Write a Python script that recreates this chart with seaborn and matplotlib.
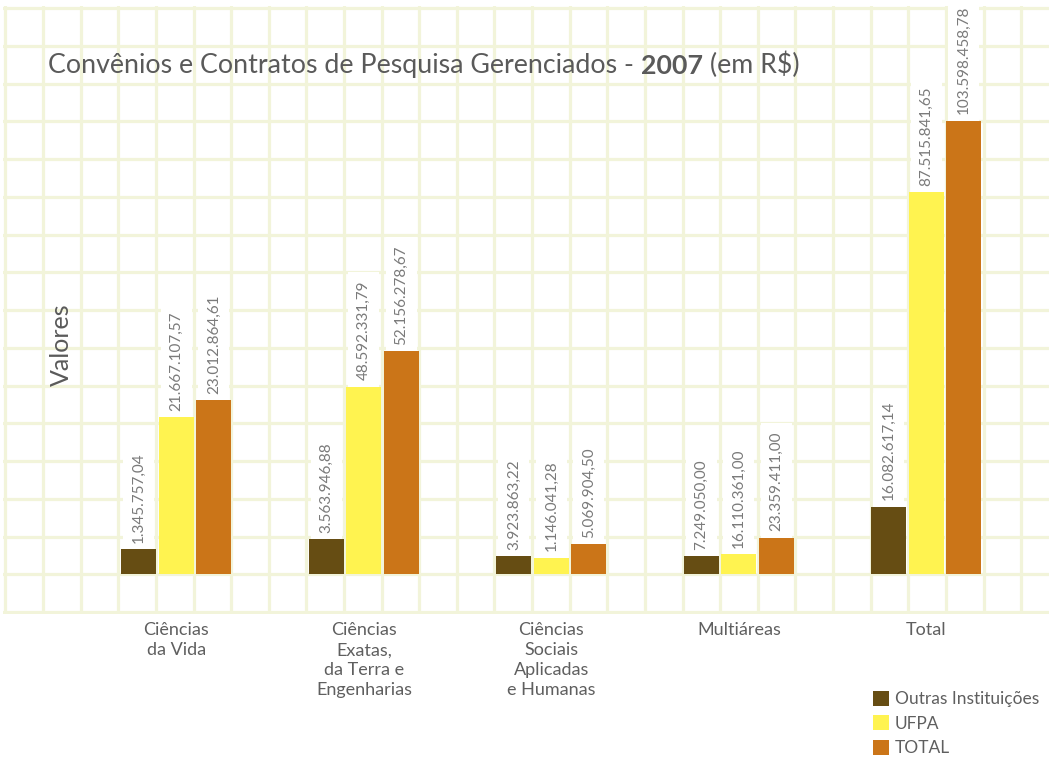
import numpy as np
import pandas as pd
import matplotlib.pyplot as plt
import seaborn as sns

categorias = ['Ciências\nda Vida', 'Ciências\nExatas,\nda Terra e\nEngenharias',
              'Ciências\nSociais\nAplicadas\ne Humanas', 'Multiáreas', 'Total']
series = ['Outras Instituições', 'UFPA', 'TOTAL']

# valores impressos sobre as barras (R$)
outras = [1345757.04, 3563946.88, 3923863.22, 7249050.00, 16082617.14]
ufpa = [21667107.57, 48592331.79, 1146041.28, 16110361.00, 87515841.65]
total = [23012864.61, 52156278.67, 5069904.50, 23359411.00, 103598458.78]

# altura desenhada de cada barra, em quadros da grade (o original nao e proporcional)
altura_outras = [0.64, 0.92, 0.46, 0.47, 1.77]
altura_ufpa = [4.15, 4.95, 0.42, 0.52, 10.10]
altura_total = [4.60, 5.89, 0.78, 0.95, 12.00]

cores = ['#664D13', '#FFF350', '#CB7518']


def fmt_br(v):
    return f'{v:,.2f}'.replace(',', 'X').replace('.', ',').replace('X', '.')


rows = []
for serie, vals, alts in zip(series, [outras, ufpa, total],
                             [altura_outras, altura_ufpa, altura_total]):
    for cat, v, a in zip(categorias, vals, alts):
        rows.append((cat, serie, v, a))
df = pd.DataFrame(rows, columns=['categoria', 'serie', 'valor', 'altura'])

sns.set_theme(style='white')
plt.rcParams['font.family'] = ['Lato', 'DejaVu Sans']

W, H = 1054, 759
fig = plt.figure(figsize=(W / 100, H / 100), dpi=100)
fig.patch.set_facecolor('white')

# area da grade, em pixels
x0, x1, y0, y1 = 3, 1049, 6, 614
pos = [x0 / W, 1 - y1 / H, (x1 - x0) / W, (y1 - y0) / H]

# fundo quadriculado
bg = fig.add_axes(pos, zorder=0)
bg.set_xlim(x0, x1)
bg.set_ylim(y1, y0)
bg.set_xticks(5.4 + 37.62 * np.arange(28))
bg.set_yticks(8 + 37.75 * np.arange(17))
bg.grid(True, color='#F2F4DA', linewidth=2.3)
bg.tick_params(length=0, labelbottom=False, labelleft=False)
for s in bg.spines.values():
    s.set_visible(False)

# barras
ax = fig.add_axes(pos, zorder=1)
ax.patch.set_alpha(0)
sns.barplot(data=df, x='categoria', y='altura', hue='serie', order=categorias,
            hue_order=series, palette=cores, saturation=1, width=0.6, gap=0.07,
            linewidth=0, ax=ax)
ax.set_xlim((x0 - 176.4) / 187.5, (x1 - 176.4) / 187.5)
ax.set_ylim((573.5 - y1) / 37.75, (573.5 - y0) / 37.75)
ax.set_xlabel('')
ax.set_ylabel('')
ax.set_yticks([])
ax.tick_params(axis='x', length=0, pad=6, labelsize=13, labelcolor='#5f5f5f')
for t in ax.get_xticklabels():
    t.set_linespacing(1.3)
    t.set_verticalalignment('top')
for s in ax.spines.values():
    s.set_visible(False)

for cont, serie in zip(ax.containers, series):
    vals = df.loc[df.serie == serie, 'valor']
    ax.bar_label(cont, labels=[fmt_br(v) for v in vals], rotation=90, padding=4.5,
                 fontsize=11, color='#7a7a7a', zorder=0.5,
                 bbox=dict(boxstyle='square,pad=0.55', fc='white', ec='none'))

handles, labels = ax.get_legend_handles_labels()
ax.legend_.remove()
fig.legend(handles, labels, loc='upper left', bbox_to_anchor=(873 / W, 1 - 691 / H),
           frameon=False, fontsize=12.5, handlelength=0.95, handleheight=0.95,
           labelspacing=0.45, handletextpad=0.3, borderpad=0, borderaxespad=0,
           labelcolor='#5f5f5f')

# titulo
t1 = fig.text(48 / W, 1 - 78 / H, 'Convênios e Contratos de Pesquisa Gerenciados - ',
              fontsize=19.3, color='#5a5a5a', va='bottom', ha='left')
t2 = bg.annotate('2007', xy=(1, 0), xycoords=t1, fontsize=19.3, fontweight='bold',
                 color='#5a5a5a', va='bottom', ha='left')
bg.annotate(' (em R$)', xy=(1, 0), xycoords=t2, fontsize=19.3, color='#5a5a5a',
            va='bottom', ha='left')

fig.text(61 / W, 1 - 345 / H, 'Valores', rotation=90, fontsize=18, color='#5a5a5a',
         va='center', ha='center')

fig.savefig('out.png', dpi=100)
